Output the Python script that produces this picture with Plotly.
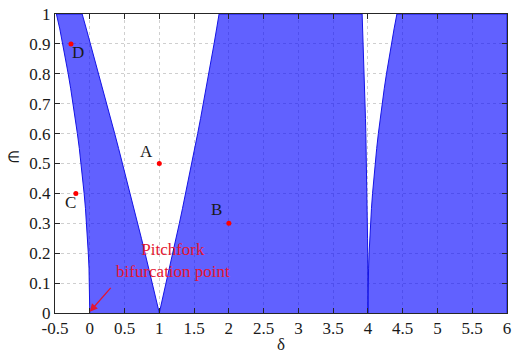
import plotly.graph_objects as go

# epsilon samples (vertical axis)
eps = [0, 0.05, 0.1, 0.15, 0.2, 0.25, 0.3, 0.35, 0.4, 0.45, 0.5,
       0.55, 0.6, 0.65, 0.7, 0.75, 0.8, 0.85, 0.9, 0.95, 1.0]

# transition curves delta(eps)
a0 = [0, -0.0013, -0.005, -0.011, -0.021, -0.032, -0.046, -0.062, -0.081, -0.102, -0.125,
      -0.150, -0.178, -0.208, -0.240, -0.274, -0.310, -0.348, -0.388, -0.431, -0.48]
b1 = [1, 0.9497, 0.8988, 0.8472, 0.7951, 0.7424, 0.6892, 0.6354, 0.5811, 0.5261, 0.4707,
      0.4148, 0.3584, 0.3015, 0.2441, 0.1863, 0.128, 0.0693, 0.0101, -0.0494, -0.1094]
a1 = [1, 1.0497, 1.0987, 1.1471, 1.1949, 1.2420, 1.2883, 1.3340, 1.3790, 1.4233, 1.4668,
      1.5096, 1.5516, 1.5929, 1.6334, 1.6731, 1.7120, 1.7501, 1.7873, 1.8238, 1.8594]
b2 = [4, 3.9998, 3.9992, 3.9981, 3.9967, 3.9948, 3.9925, 3.9898, 3.9867, 3.9831, 3.9792,
      3.9748, 3.97, 3.9648, 3.9592, 3.9531, 3.9467, 3.9398, 3.9325, 3.9248, 3.9167]
a2 = [4, 4.0010, 4.0042, 4.0094, 4.0167, 4.0260, 4.0375, 4.0510, 4.0667, 4.0844, 4.1042,
      4.1260, 4.15, 4.1760, 4.2042, 4.2344, 4.2667, 4.3010, 4.3375, 4.3760, 4.4167]

# labelled points
pt_names = ["A", "B", "C", "D"]
pt_delta = [1.0, 2.0, -0.2, -0.27]
pt_eps = [0.5, 0.3, 0.4, 0.9]
lbl_delta = [0.82, 1.82, -0.275, -0.165]
lbl_eps = [0.54, 0.345, 0.368, 0.87]

xticks = [-0.5, 0, 0.5, 1, 1.5, 2, 2.5, 3, 3.5, 4, 4.5, 5, 5.5, 6]
xticklabels = ["-0.5", "0", "0.5", "1", "1.5", "2", "2.5", "3", "3.5", "4", "4.5", "5", "5.5", "6"]
yticks = [0, 0.1, 0.2, 0.3, 0.4, 0.5, 0.6, 0.7, 0.8, 0.9, 1]
yticklabels = ["0", "0.1", "0.2", "0.3", "0.4", "0.5", "0.6", "0.7", "0.8", "0.9", "1"]

FILL = "rgba(0,0,255,0.62)"
EDGE = "rgb(20,20,230)"
SERIF = "Liberation Serif"

fig = go.Figure()

# region 1: between a0 and b1
fig.add_trace(go.Scatter(x=a0 + b1[::-1], y=eps + eps[::-1], fill="toself",
                         fillcolor=FILL, mode="lines", line=dict(color=EDGE, width=1),
                         hoverinfo="skip", showlegend=False))
# region 2: between a1 and b2
fig.add_trace(go.Scatter(x=a1 + b2[::-1], y=eps + eps[::-1], fill="toself",
                         fillcolor=FILL, mode="lines", line=dict(color=EDGE, width=1),
                         hoverinfo="skip", showlegend=False))
# region 3: right of a2
fig.add_trace(go.Scatter(x=a2 + [xticks[-1], xticks[-1]], y=eps + [yticks[-1], yticks[0]],
                         fill="toself", fillcolor=FILL, mode="lines",
                         line=dict(color=EDGE, width=1), hoverinfo="skip", showlegend=False))

# points
fig.add_trace(go.Scatter(x=pt_delta, y=pt_eps, mode="markers",
                         marker=dict(color="red", size=5, symbol="circle"),
                         hoverinfo="skip", showlegend=False))

for n, xd, yd in zip(pt_names, lbl_delta, lbl_eps):
    fig.add_annotation(x=xd, y=yd, text=n, showarrow=False,
                       font=dict(family=SERIF, size=17, color="#1a1a1a"))

RED = "rgb(228,22,50)"
fig.add_annotation(x=1.2, y=0.175, text="Pitchfork<br>bifurcation point", showarrow=False,
                   font=dict(family=SERIF, size=17, color=RED), align="center",
                   xanchor="center", yanchor="middle")
fig.add_annotation(x=0.0, y=0.004, ax=0.32, ay=0.089, xref="x", yref="y", axref="x", ayref="y",
                   text="", showarrow=True, arrowhead=2, arrowsize=1.2, arrowwidth=1.3,
                   arrowcolor=RED)

# axis titles
fig.add_annotation(xref="paper", yref="paper", x=-0.092, y=0.523, text="∈", showarrow=False,
                   xanchor="center", yanchor="middle",
                   font=dict(family=SERIF, size=15, color="#1a1a1a"))
fig.add_annotation(xref="paper", yref="paper", x=0.5, y=-0.106, text="δ", showarrow=False,
                   xanchor="center", yanchor="middle",
                   font=dict(family=SERIF, size=17, color="#1a1a1a"))

axis_common = dict(showline=True, linecolor="#262626", linewidth=1, mirror="allticks",
                   ticks="inside", ticklen=5, tickcolor="#262626",
                   showgrid=True, gridcolor="#cfcfcf", griddash="dot", gridwidth=1,
                   zeroline=False, tickfont=dict(family=SERIF, size=17, color="#1a1a1a"))

fig.update_xaxes(range=[xticks[0], xticks[-1]], tickvals=xticks, ticktext=xticklabels, **axis_common)
fig.update_yaxes(range=[yticks[0], yticks[-1]], tickvals=yticks, ticktext=yticklabels, **axis_common)

fig.update_layout(width=516, height=353, margin=dict(l=55, r=5, t=14, b=40),
                  plot_bgcolor="white", paper_bgcolor="white",
                  font=dict(family=SERIF))

fig.write_html("out.html")
